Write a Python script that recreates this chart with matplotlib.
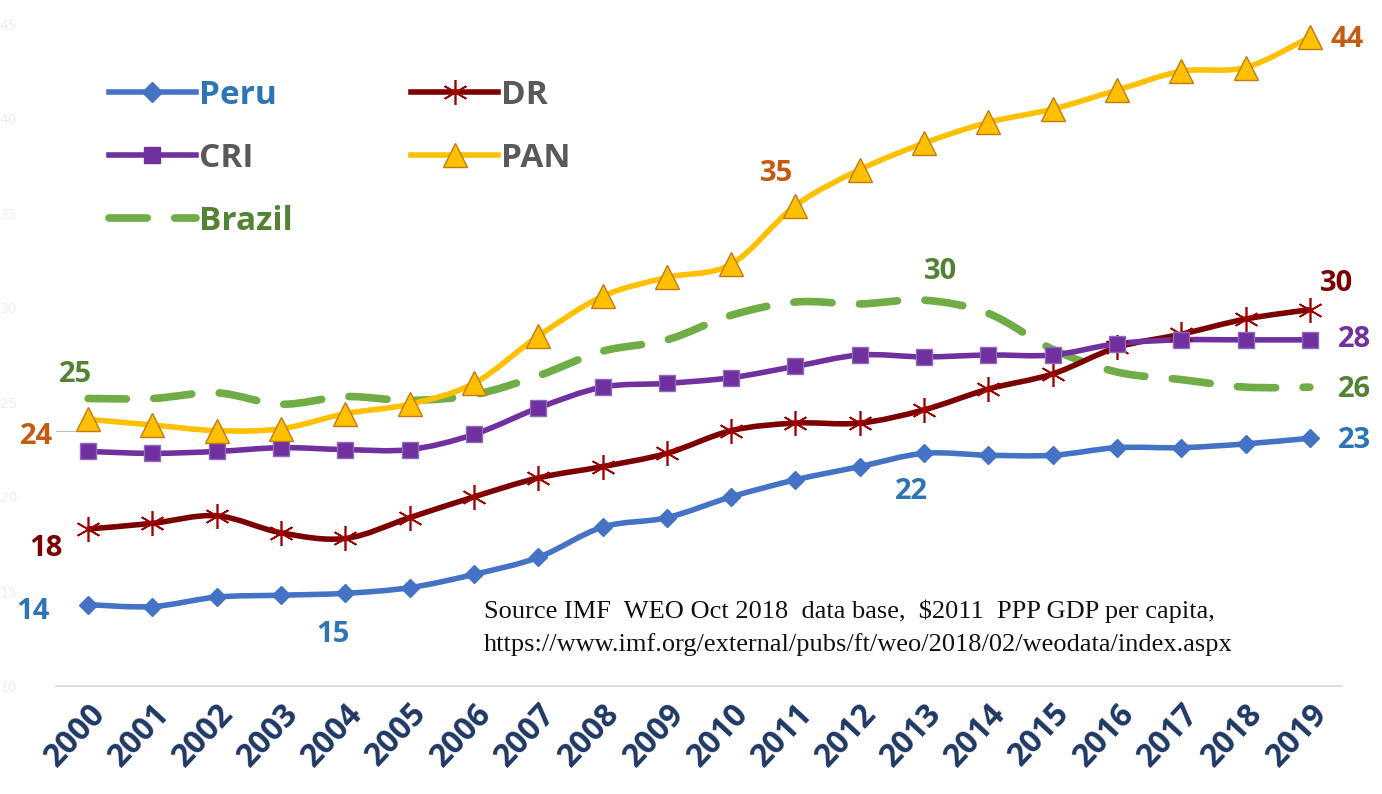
import matplotlib
matplotlib.use("Agg")
import matplotlib.pyplot as plt
import numpy as np
from matplotlib.path import Path
from matplotlib.patches import PathPatch
from matplotlib.lines import Line2D

years = list(range(2000, 2020))
peru = [14.3, 14.2, 14.7, 14.8, 14.9, 15.2, 15.9, 16.8, 18.4, 18.9,
        20.0, 20.9, 21.6, 22.3, 22.2, 22.2, 22.6, 22.6, 22.8, 23.1]
dr = [18.3, 18.6, 19.0, 18.1, 17.8, 18.9, 20.0, 21.0, 21.6, 22.3,
      23.5, 23.9, 23.9, 24.6, 25.7, 26.5, 27.9, 28.6, 29.4, 29.9]
cri = [22.4, 22.3, 22.4, 22.6, 22.5, 22.5, 23.3, 24.7, 25.8, 26.0,
       26.3, 26.9, 27.5, 27.4, 27.5, 27.5, 28.1, 28.3, 28.3, 28.3]
pan = [24.1, 23.8, 23.5, 23.6, 24.4, 24.9, 26.0, 28.5, 30.6, 31.6,
       32.3, 35.4, 37.3, 38.7, 39.8, 40.5, 41.5, 42.5, 42.7, 44.3]
brazil = [25.2, 25.2, 25.5, 24.9, 25.3, 25.1, 25.4, 26.4, 27.7, 28.3,
          29.6, 30.3, 30.2, 30.4, 29.7, 27.8, 26.6, 26.2, 25.8, 25.8]
y_ticks = [10, 15, 20, 25, 30, 35, 40, 45]

BLUE = "#4472C4"
DRED = "#7B0000"
PURPLE = "#7030A0"
GOLD = "#FFC000"
GREEN = "#70AD47"

fig = plt.figure(figsize=(13.82, 7.94), dpi=100)
ax = fig.add_axes([56 / 1382, 108 / 794, (1342 - 56) / 1382, (686 - 24) / 794])
ax.set_xlim(1999.5, 2019.5)
ax.set_ylim(10, 45)


def smooth_path(xs, ys, tension=0.5):
    # Catmull-Rom -> cubic bezier, like Excel's smoothed line
    xs = np.asarray(xs, float)
    ys = np.asarray(ys, float)
    n = len(xs)
    verts = [(xs[0], ys[0])]
    codes = [Path.MOVETO]
    for i in range(n - 1):
        p0 = np.array([xs[max(i - 1, 0)], ys[max(i - 1, 0)]])
        p1 = np.array([xs[i], ys[i]])
        p2 = np.array([xs[i + 1], ys[i + 1]])
        p3 = np.array([xs[min(i + 2, n - 1)], ys[min(i + 2, n - 1)]])
        c1 = p1 + (p2 - p0) * tension / 3
        c2 = p2 - (p3 - p1) * tension / 3
        verts += [tuple(c1), tuple(c2), tuple(p2)]
        codes += [Path.CURVE4] * 3
    return Path(verts, codes)


def draw(vals, color, lw, z, ls="-", capstyle="butt"):
    patch = PathPatch(smooth_path(years, vals), fill=False, edgecolor=color,
                      lw=lw, linestyle=ls, zorder=z, capstyle=capstyle)
    ax.add_patch(patch)


DASH = (0, (5, 3.6))
draw(brazil, GREEN, 5.5, 2, ls=DASH, capstyle="round")
draw(peru, BLUE, 4, 3)
draw(dr, DRED, 4, 3)
draw(cri, PURPLE, 4, 3)
draw(pan, GOLD, 4, 3)

ax.plot(years, peru, ls="none", marker="D", ms=9, color=BLUE, zorder=4)
ax.plot(years, dr, ls="none", marker=(6, 2, 0), ms=18, mew=1.2, color="#A00000", zorder=4)
ax.plot(years, cri, ls="none", marker="s", ms=12, color=PURPLE, mec="#8E6AB8", zorder=4)
ax.plot(years, pan, ls="none", marker="^", ms=17, color=GOLD, mec="#C07A10", mew=1, zorder=4)

for s in ["top", "right", "left"]:
    ax.spines[s].set_visible(False)
ax.spines["bottom"].set_color("#d9d9d9")
ax.spines["bottom"].set_linewidth(1.2)

ax.set_yticks(y_ticks)
ax.set_yticklabels([str(v) for v in y_ticks], color="#eeeeee", fontsize=10)
ax.tick_params(axis="y", length=0, pad=28)
ax.set_xticks(years)
ax.set_xticklabels([str(y) for y in years], rotation=47, ha="right",
                   rotation_mode="anchor", fontsize=23, fontweight="bold",
                   color="#1F3864", family="Open Sans")
ax.tick_params(axis="x", length=0, pad=8)

FONT = "Open Sans"
lab = dict(fontsize=21, fontweight="bold", family=FONT, va="center")
ORANGE_T = "#C55A11"
GREEN_T = "#548235"
BLUE_T = "#2E75B6"
ax.text(2019.32, 44.2, "44", color=ORANGE_T, ha="left", **lab)
ax.text(2010.7, 37.1, "35", color=ORANGE_T, ha="center", **lab)
ax.text(1999.45, 23.2, "24", color=ORANGE_T, ha="right", **lab)
ax.plot([1999.47, 1999.8], [23.5, 23.5], color="#bbbbbb", lw=0.8)
ax.text(1999.8, 26.45, "25", color=GREEN_T, ha="center", **lab)
ax.text(2013.25, 31.9, "30", color=GREEN_T, ha="center", **lab)
ax.text(2019.43, 25.7, "26", color=GREEN_T, ha="left", **lab)
ax.text(2019.16, 31.3, "30", color=DRED, ha="left", **lab)
ax.text(2019.43, 28.3, "28", color=PURPLE, ha="left", **lab)
ax.text(2019.43, 23.0, "23", color=BLUE_T, ha="left", **lab)
ax.text(2012.8, 20.26, "22", color=BLUE_T, ha="center", **lab)
ax.text(2003.8, 12.7, "15", color=BLUE_T, ha="center", **lab)
ax.text(1999.4, 13.95, "14", color=BLUE_T, ha="right", **lab)
ax.text(1999.6, 17.25, "18", color=DRED, ha="right", **lab)

ax.text(0.333, 0.131, "Source IMF  WEO Oct 2018  data base,  $2011  PPP GDP per capita,\n"
        "https://www.imf.org/external/pubs/ft/weo/2018/02/weodata/index.aspx",
        transform=ax.transAxes, family="Liberation Serif", fontsize=19,
        color="#111111", va="top", ha="left", linespacing=1.55)

handles = [
    Line2D([], [], color=BLUE, lw=4, marker="D", ms=10),
    Line2D([], [], color=PURPLE, lw=4, marker="s", ms=12),
    Line2D([], [], color=GREEN, lw=5.5, ls=DASH, dash_capstyle="round"),
    Line2D([], [], color=DRED, lw=4, marker=(6, 2, 0), ms=18, mew=1.2, mec="#A00000"),
    Line2D([], [], color=GOLD, lw=4, marker="^", ms=17, mec="#C07A10", mew=1),
]
names = ["Peru", "CRI", "Brazil", "DR", "PAN"]
leg = ax.legend(handles, names, ncol=2, loc="upper left", bbox_to_anchor=(0.018, 0.962),
                frameon=False, handlelength=2.6, columnspacing=3.55, labelspacing=0.9,
                handletextpad=0.1, prop=dict(family=FONT, size=24, weight="bold"))
for t, c in zip(leg.get_texts(), [BLUE_T, "#595959", GREEN_T, "#595959", "#595959"]):
    t.set_color(c)

fig.savefig("out.png", dpi=100)
